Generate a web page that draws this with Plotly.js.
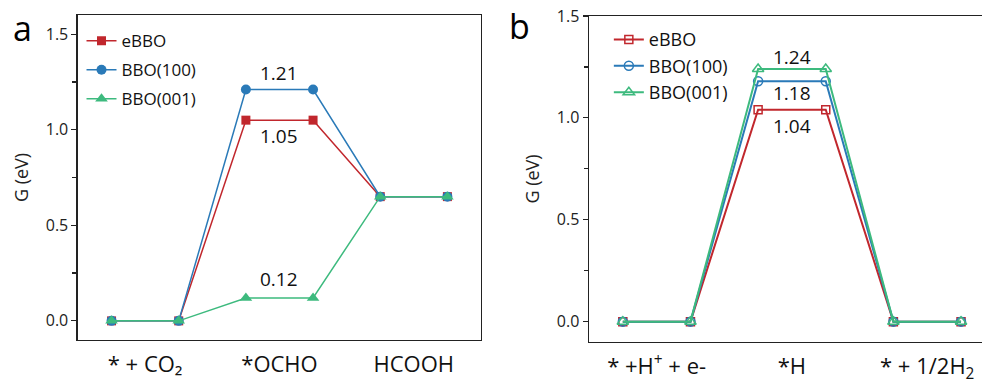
<!DOCTYPE html>
<html>
<head>
<meta charset="utf-8">
<script src="https://cdn.plot.ly/plotly-3.0.1.min.js"></script>
<style>html,body{margin:0;padding:0;background:#fff;}#chart{width:982px;height:385px;}</style>
</head>
<body>
<div id="chart"></div>
<script>
// Panel a: CO2 reduction pathway
const stepsA = [1, 2, 3, 4, 5, 6];
const catPosA = [1.5, 3.5, 5.5];
const catLabelsA = ["* + CO₂", "*OCHO", "HCOOH"];
const eBBO_a = [0, 0, 1.05, 1.05, 0.65, 0.65];
const bbo100_a = [0, 0, 1.21, 1.21, 0.65, 0.65];
const bbo001_a = [0, 0, 0.12, 0.12, 0.65, 0.65];

// Panel b: HER pathway
const stepsB = [1, 2, 3, 4, 5, 6];
const catPosB = [1.5, 3.5, 5.5];
const catLabelsB = ["* +H<sup>+</sup> + e-", "*H", "* + 1/2H<sub>2</sub>"];
const eBBO_b = [0, 0, 1.04, 1.04, 0, 0];
const bbo100_b = [0, 0, 1.18, 1.18, 0, 0];
const bbo001_b = [0, 0, 1.24, 1.24, 0, 0];

const seriesNames = ["eBBO", "BBO(100)", "BBO(001)"];

const RED = "#c1272d", BLUE = "#2a7ab8", GREEN = "#3dba7e";
const FONT = "Open Sans, sans-serif";
const AX = "#222";

const traces = [
  {x: stepsA, y: eBBO_a, name: seriesNames[0], mode: "lines+markers", xaxis: "x", yaxis: "y", legend: "legend", legendgroup: "a1",
   line: {color: RED, width: 1.5}, marker: {symbol: "square", size: 9, color: RED}},
  {x: stepsA, y: bbo100_a, name: seriesNames[1], mode: "lines+markers", xaxis: "x", yaxis: "y", legend: "legend", legendgroup: "a2",
   line: {color: BLUE, width: 1.5}, marker: {symbol: "circle", size: 10, color: BLUE}},
  {x: stepsA, y: bbo001_a, name: seriesNames[2], mode: "lines+markers", xaxis: "x", yaxis: "y", legend: "legend", legendgroup: "a3",
   line: {color: GREEN, width: 1.5}, marker: {symbol: "triangle-up", size: 11, color: GREEN}},
  {x: stepsB, y: eBBO_b, name: seriesNames[0], mode: "lines+markers", xaxis: "x2", yaxis: "y2", legend: "legend2", legendgroup: "b1",
   line: {color: RED, width: 2}, marker: {symbol: "square-open", size: 8, color: RED, line: {width: 1.5}}},
  {x: stepsB, y: bbo100_b, name: seriesNames[1], mode: "lines+markers", xaxis: "x2", yaxis: "y2", legend: "legend2", legendgroup: "b2",
   line: {color: BLUE, width: 2}, marker: {symbol: "circle-open", size: 9, color: BLUE, line: {width: 1.5}}},
  {x: stepsB, y: bbo001_b, name: seriesNames[2], mode: "lines+markers", xaxis: "x2", yaxis: "y2", legend: "legend2", legendgroup: "b3",
   line: {color: GREEN, width: 2}, marker: {symbol: "triangle-up-open", size: 10, color: GREEN, line: {width: 1.5}}}
];

function yAxis(domain, range, mirror, anchor) {
  return {
    domain: domain, range: range, anchor: anchor,
    tickvals: [0, 0.5, 1.0, 1.5], ticktext: ["0.0", "0.5", "1.0", "1.5"],
    ticks: "outside", ticklen: 5, tickwidth: 1.2, tickcolor: AX,
    minor: {tickvals: [0.25, 0.75, 1.25], ticks: "outside", ticklen: 4, tickwidth: 1.2, tickcolor: AX},
    showline: true, linecolor: AX, linewidth: 1.5, mirror: mirror,
    showgrid: false, zeroline: false,
    tickfont: {family: FONT, size: 16, color: "#222"},
    title: {text: "G (eV)", font: {family: FONT, size: 18, color: "#222"}, standoff: 12}
  };
}
function xAxis(domain, range, vals, labels, anchor) {
  return {
    domain: domain, range: range, anchor: anchor,
    tickvals: vals, ticktext: labels, ticks: "", ticklabelstandoff: 4,
    showline: true, linecolor: AX, linewidth: 1.5, mirror: true,
    showgrid: false, zeroline: false,
    tickfont: {family: FONT, size: 22, color: "#111"}
  };
}

const annFont = {family: FONT, size: 19, color: "#111"};
const lblFont = {family: FONT, size: 34, color: "#000"};
const layout = {
  width: 982, height: 385,
  margin: {l: 0, r: 0, t: 0, b: 0},
  paper_bgcolor: "#fff", plot_bgcolor: "#fff",
  showlegend: true,
  xaxis: xAxis([0.0794, 0.4898], [0.5, 6.5], catPosA, catLabelsA, "y"),
  yaxis: yAxis([0.1169, 0.961], [-0.1, 1.6], true, "x"),
  xaxis2: xAxis([0.5998, 1.0], [0.5, 6.31], catPosB, catLabelsB, "y2"),
  yaxis2: yAxis([0.1117, 0.9584], [-0.1, 1.5], false, "x2"),
  legend: {x: 0.083, y: 0.94, xanchor: "left", yanchor: "top", bgcolor: "rgba(0,0,0,0)",
           font: {family: FONT, size: 17, color: "#111"}, tracegroupgap: 4, itemwidth: 30},
  legend2: {x: 0.620, y: 0.945, xanchor: "left", yanchor: "top", bgcolor: "rgba(0,0,0,0)",
           font: {family: FONT, size: 18, color: "#111"}, tracegroupgap: 0, itemwidth: 30},
  annotations: [
    {xref: "x", yref: "y", x: 3.5, y: bbo100_a[2], text: "1.21", showarrow: false, yshift: 17, font: annFont},
    {xref: "x", yref: "y", x: 3.5, y: eBBO_a[2], text: "1.05", showarrow: false, yshift: -16, font: annFont},
    {xref: "x", yref: "y", x: 3.5, y: bbo001_a[2], text: "0.12", showarrow: false, yshift: 19, font: annFont},
    {xref: "x2", yref: "y2", x: 3.5, y: bbo001_b[2], text: "1.24", showarrow: false, yshift: 12, font: annFont},
    {xref: "x2", yref: "y2", x: 3.5, y: bbo100_b[2], text: "1.18", showarrow: false, yshift: -12, font: annFont},
    {xref: "x2", yref: "y2", x: 3.5, y: eBBO_b[2], text: "1.04", showarrow: false, yshift: -16, font: annFont},
    {xref: "paper", yref: "paper", x: 22 / 982, y: 1 - 28 / 385, xanchor: "center", yanchor: "middle",
     text: "a", showarrow: false, font: lblFont},
    {xref: "paper", yref: "paper", x: 519 / 982, y: 1 - 26 / 385, xanchor: "center", yanchor: "middle",
     text: "b", showarrow: false, font: lblFont}
  ]
};

Plotly.newPlot("chart", traces, layout, {displayModeBar: false, staticPlot: true});
</script>
</body>
</html>
